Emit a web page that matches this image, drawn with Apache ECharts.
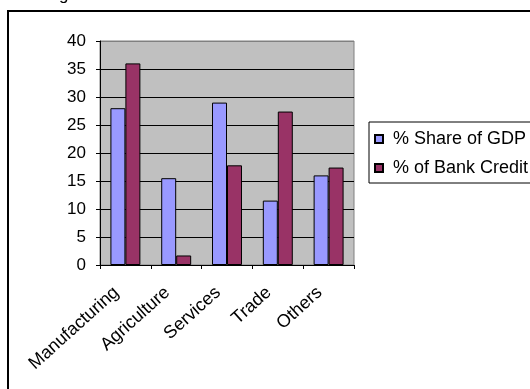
<!DOCTYPE html>
<html>
<head>
<meta charset="utf-8">
<script src="https://cdn.jsdelivr.net/npm/echarts@6/dist/echarts.min.js"></script>
<style>
html,body{margin:0;padding:0;background:#fff;}
#c{width:530px;height:389px;}
</style>
</head>
<body>
<div id="c"></div>
<script>
const categories = ['Manufacturing', 'Agriculture', 'Services', 'Trade', 'Others'];
const gdpShare = [28, 15.5, 29, 11.5, 16];
const bankCredit = [36, 1.7, 17.8, 27.4, 17.4];
const seriesNames = ['% Share of GDP', '% of Bank Credit'];
const yTicks = { min: 0, max: 40, interval: 5 };

const FONT = '"Liberation Sans", Arial, sans-serif';
const chart = echarts.init(document.getElementById('c'), null, { renderer: 'canvas' });

const splitColors = [];
for (let v = yTicks.min; v <= yTicks.max; v += yTicks.interval) {
  splitColors.push(v === yTicks.max ? '#808080' : '#000000');
}

chart.setOption({
  animation: false,
  backgroundColor: '#ffffff',
  textStyle: { fontFamily: FONT },
  graphic: [
    {
      type: 'rect', z: 0,
      shape: { x: 8, y: 11, width: 600, height: 500 },
      style: { fill: 'none', stroke: '#000', lineWidth: 2 }
    },
    {
      type: 'text', z: 0, left: 59, top: -13,
      style: { text: 'g', font: '17px ' + FONT, fill: '#000' }
    }
  ],
  grid: {
    left: 100, top: 41, width: 254, height: 224,
    show: true, backgroundColor: '#C0C0C0', borderColor: '#808080', borderWidth: 1
  },
  legend: {
    orient: 'vertical',
    left: 369, top: 122,
    padding: [8, 30, 6, 5],
    itemGap: 11,
    itemWidth: 8, itemHeight: 8,
    icon: 'rect',
    borderColor: '#000', borderWidth: 1,
    backgroundColor: '#fff',
    textStyle: { fontSize: 18, color: '#000', fontFamily: FONT, padding: [0, 0, 0, 5] },
    data: seriesNames
  },
  xAxis: {
    type: 'category',
    data: categories,
    axisLine: { lineStyle: { color: '#000', width: 1 } },
    axisTick: { show: true, length: 4, lineStyle: { color: '#000' } },
    axisLabel: {
      rotate: 42, margin: 17, fontSize: 18, color: '#000', fontFamily: FONT,
      padding: [0, 12, 0, 0], interval: 0
    },
    splitLine: { show: false }
  },
  yAxis: {
    type: 'value',
    min: yTicks.min, max: yTicks.max, interval: yTicks.interval,
    axisLine: { show: true, lineStyle: { color: '#000', width: 1 } },
    axisTick: { show: true, length: 4, lineStyle: { color: '#000' } },
    axisLabel: { margin: 14, fontSize: 17, color: '#000', fontFamily: FONT },
    splitLine: { show: true, lineStyle: { color: splitColors, width: 1 } }
  },
  series: [
    {
      name: seriesNames[0], type: 'bar', data: gdpShare,
      barGap: '0%', barCategoryGap: '41%',
      itemStyle: { color: '#9999FF', borderColor: '#000', borderWidth: 1 }
    },
    {
      name: seriesNames[1], type: 'bar', data: bankCredit,
      barGap: '0%', barCategoryGap: '41%',
      itemStyle: { color: '#993366', borderColor: '#000', borderWidth: 1 }
    }
  ]
});
</script>
</body>
</html>
